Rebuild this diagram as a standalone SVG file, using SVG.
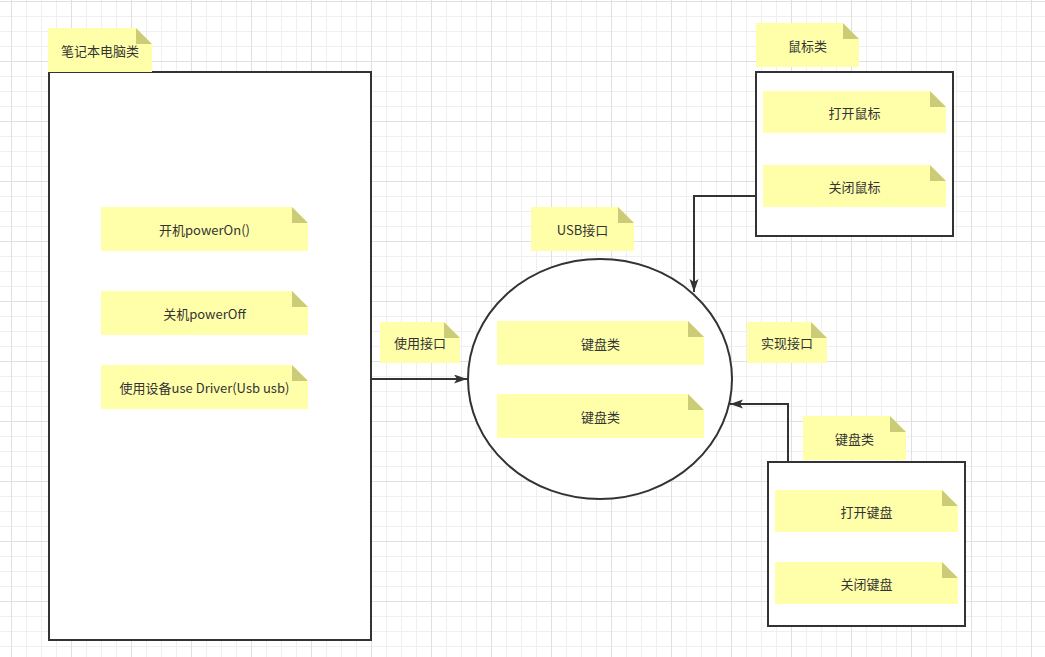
<svg xmlns="http://www.w3.org/2000/svg" width="1045" height="657" viewBox="0 0 1045 657">
<style>
.note{fill:#ffffaa;}
.fold{fill:#cccc78;}
.box{fill:#ffffff;stroke:#333333;stroke-width:2;}
.t{font-family:"Noto Sans CJK SC","Liberation Sans",sans-serif;font-size:13px;fill:#333333;text-anchor:middle;dominant-baseline:central;}
.edge{fill:none;stroke:#333333;stroke-width:2;}
</style>
<defs>
<pattern id="grid" patternUnits="userSpaceOnUse" x="11" y="1" width="60" height="60">
<rect x="15" y="0" width="1" height="60" fill="#efefef"/>
<rect x="30" y="0" width="1" height="60" fill="#efefef"/>
<rect x="45" y="0" width="1" height="60" fill="#efefef"/>
<rect x="0" y="15" width="60" height="1" fill="#efefef"/>
<rect x="0" y="30" width="60" height="1" fill="#efefef"/>
<rect x="0" y="45" width="60" height="1" fill="#efefef"/>
<rect x="0" y="0" width="1" height="60" fill="#e0e0e0"/>
<rect x="0" y="0" width="60" height="1" fill="#e0e0e0"/>
</pattern>
<marker id="arrow" markerUnits="userSpaceOnUse" markerWidth="14" markerHeight="10" refX="13" refY="4.5" orient="auto">
<path d="M0,0 L13,4.5 L0,9 L3,4.5 Z" fill="#333333"/>
</marker>
</defs>
<rect x="0" y="0" width="1045" height="657" fill="#ffffff"/>
<rect x="0" y="0" width="1045" height="657" fill="url(#grid)"/>

<g id="laptop">
<rect class="box" x="49" y="72" width="322" height="568"/>
<g id="laptop-label">
<polygon class="note" points="48,28 136,28 152,44 152,72 48,72"/>
<polygon class="fold" points="136,28 136,44 152,44"/>
<text class="t" x="100" y="50">笔记本电脑类</text>
</g>
<g id="laptop-poweron">
<polygon class="note" points="101,207 292,207 308,223 308,251 101,251"/>
<polygon class="fold" points="292,207 292,223 308,223"/>
<text class="t" x="204.5" y="229">开机powerOn()</text>
</g>
<g id="laptop-poweroff">
<polygon class="note" points="101,291 292,291 308,307 308,335 101,335"/>
<polygon class="fold" points="292,291 292,307 308,307"/>
<text class="t" x="204.5" y="313">关机powerOff</text>
</g>
<g id="laptop-use">
<polygon class="note" points="101,365 292,365 308,381 308,409 101,409"/>
<polygon class="fold" points="292,365 292,381 308,381"/>
<text class="t" x="204.5" y="387">使用设备use Driver(Usb usb)</text>
</g>
</g>

<g id="usb">
<g id="usb-label">
<polygon class="note" points="531,207 618,207 634,223 634,251 531,251"/>
<polygon class="fold" points="618,207 618,223 634,223"/>
<text class="t" x="582.5" y="229">USB接口</text>
</g>
<ellipse class="box" cx="600" cy="379" rx="132" ry="120"/>
<g id="usb-kb1">
<polygon class="note" points="497,321 688,321 704,337 704,365 497,365"/>
<polygon class="fold" points="688,321 688,337 704,337"/>
<text class="t" x="600.5" y="343">键盘类</text>
</g>
<g id="usb-kb2">
<polygon class="note" points="497,394 688,394 704,410 704,438 497,438"/>
<polygon class="fold" points="688,394 688,410 704,410"/>
<text class="t" x="600.5" y="416">键盘类</text>
</g>
</g>

<g id="label-use">
<polygon class="note" points="380,322 444,322 460,338 460,363 380,363"/>
<polygon class="fold" points="444,322 444,338 460,338"/>
<text class="t" x="420" y="342.5">使用接口</text>
</g>
<g id="label-impl">
<polygon class="note" points="747,322 811,322 827,338 827,363 747,363"/>
<polygon class="fold" points="811,322 811,338 827,338"/>
<text class="t" x="787" y="342.5">实现接口</text>
</g>

<g id="mouse">
<g id="mouse-label">
<polygon class="note" points="756,23 843,23 859,39 859,67 756,67"/>
<polygon class="fold" points="843,23 843,39 859,39"/>
<text class="t" x="807.5" y="45">鼠标类</text>
</g>
<rect class="box" x="756" y="72" width="197" height="164"/>
<g id="mouse-open">
<polygon class="note" points="763,91 930,91 946,107 946,133 763,133"/>
<polygon class="fold" points="930,91 930,107 946,107"/>
<text class="t" x="854.5" y="112">打开鼠标</text>
</g>
<g id="mouse-close">
<polygon class="note" points="763,165 930,165 946,181 946,207 763,207"/>
<polygon class="fold" points="930,165 930,181 946,181"/>
<text class="t" x="854.5" y="186">关闭鼠标</text>
</g>
</g>

<g id="keyboard">
<g id="keyboard-label">
<polygon class="note" points="803,416 890,416 906,432 906,460 803,460"/>
<polygon class="fold" points="890,416 890,432 906,432"/>
<text class="t" x="854.5" y="438">键盘类</text>
</g>
<rect class="box" x="768" y="462" width="197" height="164"/>
<g id="keyboard-open">
<polygon class="note" points="775,490 942,490 958,506 958,532 775,532"/>
<polygon class="fold" points="942,490 942,506 958,506"/>
<text class="t" x="866.5" y="511">打开键盘</text>
</g>
<g id="keyboard-close">
<polygon class="note" points="775,562 942,562 958,578 958,604 775,604"/>
<polygon class="fold" points="942,562 942,578 958,578"/>
<text class="t" x="866.5" y="583">关闭键盘</text>
</g>
</g>

<g id="connectors">
<path class="edge" d="M371,379 H467" marker-end="url(#arrow)"/>
<path class="edge" d="M756,196 H694 V292" marker-end="url(#arrow)"/>
<path class="edge" d="M788,461 V404 H730" marker-end="url(#arrow)"/>
</g>
</svg>
